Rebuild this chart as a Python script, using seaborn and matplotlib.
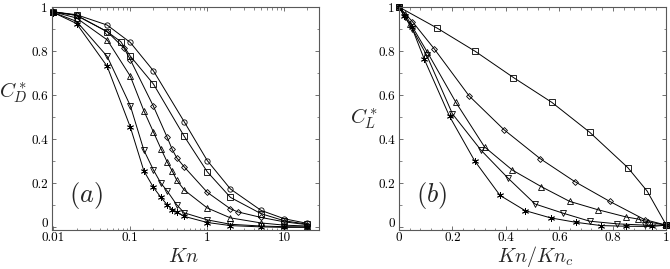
import matplotlib
matplotlib.use("Agg")
import matplotlib.pyplot as plt
import matplotlib.transforms as mtransforms
import seaborn as sns
from matplotlib.ticker import FixedLocator, MultipleLocator, LogLocator, NullFormatter

# ---- panel (a): C_D* vs Kn ----
kn_circle = [0.01, 0.02, 0.05, 0.1, 0.2, 0.5, 1, 2, 5, 10, 20]
cd_circle = [0.978, 0.965, 0.918, 0.839, 0.710, 0.480, 0.303, 0.174, 0.077, 0.039, 0.018]

kn_square = [0.01, 0.02, 0.05, 0.075, 0.1, 0.2, 0.5, 1, 2, 5, 10, 20]
cd_square = [0.978, 0.962, 0.888, 0.843, 0.777, 0.650, 0.414, 0.252, 0.136, 0.062, 0.030, 0.014]

kn_diamond = [0.01, 0.02, 0.05, 0.083, 0.1, 0.2, 0.3, 0.35, 0.4, 0.5, 1, 2, 2.5, 5, 10, 20]
cd_diamond = [0.978, 0.962, 0.888, 0.813, 0.761, 0.549, 0.410, 0.354, 0.316, 0.275,
              0.159, 0.084, 0.070, 0.045, 0.025, 0.012]

kn_up = [0.01, 0.02, 0.05, 0.1, 0.15, 0.2, 0.25, 0.3, 0.35, 0.4, 0.5, 1, 2, 5, 10, 20]
cd_up = [0.978, 0.950, 0.851, 0.686, 0.529, 0.432, 0.357, 0.298, 0.256, 0.215, 0.170,
         0.088, 0.043, 0.020, 0.010, 0.006]

kn_down = [0.01, 0.02, 0.05, 0.1, 0.15, 0.2, 0.25, 0.3, 0.4, 0.5, 1, 2, 5, 10, 20]
cd_down = [0.975, 0.935, 0.776, 0.552, 0.350, 0.260, 0.200, 0.166, 0.103, 0.066,
           0.034, 0.014, 0.006, 0.003, 0.002]

kn_star = [0.01, 0.02, 0.05, 0.1, 0.15, 0.2, 0.25, 0.3, 0.35, 0.4, 0.5, 1, 2, 5, 10, 20]
cd_star = [0.975, 0.925, 0.731, 0.455, 0.256, 0.181, 0.136, 0.103, 0.081, 0.069, 0.050,
           0.022, 0.008, 0.002, 0.0, 0.0]

# ---- panel (b): C_L* vs Kn/Kn_c ----
r_square = [0, 0.143, 0.285, 0.428, 0.572, 0.713, 0.856, 0.928, 1.0]
cl_square = [1.0, 0.904, 0.799, 0.680, 0.567, 0.432, 0.271, 0.165, 0.01]

r_diamond = [0, 0.05, 0.132, 0.262, 0.393, 0.528, 0.657, 0.788, 0.919, 1.0]
cl_diamond = [1.0, 0.934, 0.810, 0.597, 0.443, 0.312, 0.208, 0.118, 0.035, 0.01]

r_up = [0, 0.021, 0.043, 0.106, 0.213, 0.320, 0.424, 0.532, 0.638, 0.744, 0.850, 0.893, 0.93, 1.0]
cl_up = [1.0, 0.97, 0.925, 0.795, 0.567, 0.365, 0.260, 0.185, 0.118, 0.080, 0.047, 0.038,
         0.025, 0.01]

r_down = [0, 0.022, 0.05, 0.104, 0.2, 0.307, 0.409, 0.509, 0.612, 0.713, 0.815, 0.922, 1.0]
cl_down = [1.0, 0.955, 0.90, 0.78, 0.515, 0.350, 0.222, 0.106, 0.065, 0.028, 0.016, 0.01, 0.01]

r_star = [0, 0.019, 0.047, 0.095, 0.189, 0.283, 0.378, 0.472, 0.567, 0.661, 0.756, 0.85,
          0.945, 1.0]
cl_star = [1.0, 0.96, 0.91, 0.762, 0.504, 0.302, 0.145, 0.076, 0.043, 0.023, 0.008, 0.005,
           0.004, 0.01]

ASTERISK = (6, 2, 0)

sns.set_style("ticks")
plt.rcParams.update({
    "font.family": "serif",
    "font.serif": ["cmr10", "DejaVu Serif"],
    "mathtext.fontset": "cm",
    "axes.formatter.use_mathtext": True,
    "axes.unicode_minus": False,
    "axes.edgecolor": "0.35",
    "axes.linewidth": 0.8,
    "xtick.direction": "in",
    "ytick.direction": "in",
    "xtick.top": True,
    "ytick.right": True,
    "xtick.color": "0.35",
    "ytick.color": "0.35",
    "xtick.labelcolor": "black",
    "ytick.labelcolor": "black",
    "xtick.major.size": 3,
    "ytick.major.size": 3,
    "xtick.minor.size": 1.8,
    "ytick.minor.size": 1.8,
    "xtick.major.width": 0.6,
    "ytick.major.width": 0.6,
    "xtick.minor.width": 0.5,
    "ytick.minor.width": 0.5,
    "xtick.labelsize": 9.5,
    "ytick.labelsize": 9.5,
})

fig = plt.figure(figsize=(6.7, 2.69), dpi=100)
ax_a = fig.add_axes([0.0776, 0.145, 0.398, 0.829])
ax_b = fig.add_axes([0.5955, 0.145, 0.399, 0.829])

line_kw = dict(color="black", linewidth=0.7, markersize=3.8, markerfacecolor="none",
               markeredgecolor="black", markeredgewidth=0.6, sort=False,
               estimator=None, clip_on=False)

series_a = [
    (kn_circle, cd_circle, "o"),
    (kn_square, cd_square, "s"),
    (kn_diamond, cd_diamond, "D"),
    (kn_up, cd_up, "^"),
    (kn_down, cd_down, "v"),
    (kn_star, cd_star, ASTERISK),
]
series_b = [
    (r_square, cl_square, "s"),
    (r_diamond, cl_diamond, "D"),
    (r_up, cl_up, "^"),
    (r_down, cl_down, "v"),
    (r_star, cl_star, ASTERISK),
]


def draw(ax, series):
    for xs, ys, m in series:
        kw = dict(line_kw)
        if m == "D":
            kw["markersize"] = 3.0
        if m == ASTERISK:
            kw["markersize"] = 5
        sns.lineplot(x=xs, y=ys, marker=m, ax=ax, **kw)


draw(ax_a, series_a)
draw(ax_b, series_b)

ticks01 = [0, 0.2, 0.4, 0.6, 0.8, 1.0]
labels01 = ["0", "0.2", "0.4", "0.6", "0.8", "1"]

# panel (a) axes
ax_a.set_xscale("log")
ax_a.set_xlim(0.0096, 28)
ax_a.set_ylim(-0.012, 1.0)
ax_a.xaxis.set_major_locator(FixedLocator([0.01, 0.1, 1, 10]))
ax_a.set_xticklabels(["0.01", "0.1", "1", "10"])
ax_a.xaxis.set_minor_locator(LogLocator(base=10, subs=range(2, 10)))
ax_a.xaxis.set_minor_formatter(NullFormatter())
ax_a.set_yticks(ticks01)
ax_a.set_yticklabels(labels01)
ax_a.yaxis.set_minor_locator(MultipleLocator(0.1))
ax_a.set_ylabel(r"$C_D^*$", fontsize=15, rotation=0)
ax_a.yaxis.set_label_coords(-0.145, 0.56)
ax_a.text(0.494, -0.12, r"$Kn$", transform=ax_a.transAxes, fontsize=14.5,
          ha="center", va="center")
ax_a.text(0.065, 0.155, r"$(a)$", transform=ax_a.transAxes, fontsize=19,
          ha="left", va="center")

# panel (b) axes
ax_b.set_xlim(0, 1)
ax_b.set_ylim(-0.012, 1.0)
ax_b.set_xticks(ticks01)
ax_b.set_xticklabels(labels01)
ax_b.xaxis.set_minor_locator(MultipleLocator(0.04))
ax_b.set_yticks(ticks01)
ax_b.set_yticklabels(labels01)
ax_b.yaxis.set_minor_locator(MultipleLocator(0.1))
ax_b.set_ylabel(r"$C_L^*$", fontsize=15, rotation=0)
ax_b.yaxis.set_label_coords(-0.13, 0.445)
ax_b.text(0.51, -0.12, r"$Kn/Kn_c$", transform=ax_b.transAxes, fontsize=14.5,
          ha="center", va="center")
ax_b.text(0.065, 0.155, r"$(b)$", transform=ax_b.transAxes, fontsize=19,
          ha="left", va="center")

# the "0" label on y sits a little higher, clear of the x tick labels
lift = mtransforms.ScaledTranslation(0, 3.5 / 72, fig.dpi_scale_trans)
for ax in (ax_a, ax_b):
    ax.tick_params(which="both", pad=3)
    ax.tick_params(axis="x", which="both", pad=1.5)
    ax.grid(False)
    zero_lab = ax.yaxis.get_major_ticks()[0].label1
    zero_lab.set_transform(zero_lab.get_transform() + lift)

fig.savefig("out.png", dpi=100)
